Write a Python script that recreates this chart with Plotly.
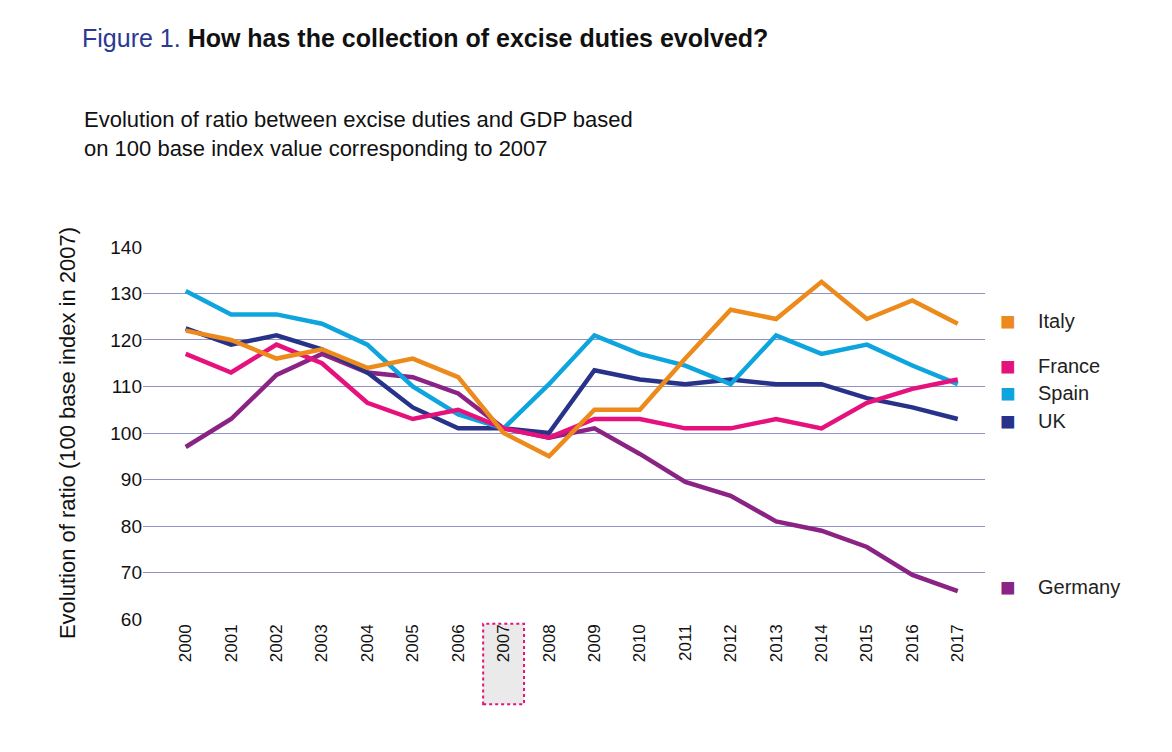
import plotly.graph_objects as go

years = list(range(2000, 2018))
italy = [122,120,116,118,114,116,112,100,95,105,105,116,126.5,124.5,132.5,124.5,128.5,123.5]
france = [117,113,119,115,106.5,103,105,101,99,103,103,101,101,103,101,106.5,109.5,111.5]
spain = [130.5,125.5,125.5,123.5,119,110,104,101,110.5,121,117,114.5,110.5,121,117,119,114.5,110.5]
uk = [122.5,119,121,118,113,105.5,101,101,100,113.5,111.5,110.5,111.5,110.5,110.5,107.5,105.5,103]
germany = [97,103,112.5,117,113,112,108.5,101,99,101,95.5,89.5,86.5,81,79,75.5,69.5,66]
series = [("Italy", italy, "#ec8a1c", 124), ("France", france, "#e5127d", 114.5),
          ("Spain", spain, "#0ea5df", 108.5), ("UK", uk, "#283288", 102.5),
          ("Germany", germany, "#8a2384", 67)]

fig = go.Figure()
for name, vals, col, _ in series[::-1]:
    fig.add_trace(go.Scatter(x=years, y=vals, mode="lines", name=name,
                             line=dict(color=col, width=4.5), showlegend=False))

fig.add_shape(type="rect", xref="x", yref="paper", x0=2006.55, x1=2007.45, y0=-0.225, y1=-0.01,
              fillcolor="#eaeaea", line=dict(color="#e5127d", width=2, dash="dot"), layer="below")

for name, vals, col, ly in series:
    fig.add_annotation(xref="paper", yref="y", x=1.015, y=ly, text="■", showarrow=False,
                       xanchor="left", font=dict(size=26, color=col))
    fig.add_annotation(xref="paper", yref="y", x=1.06, y=ly, text=name, showarrow=False,
                       xanchor="left", font=dict(size=20, color="#222"))

fig.add_annotation(xref="paper", yref="paper", x=-0.075, y=1.555, xanchor="left", yanchor="middle",
                   text="<span style='color:#2b3990'>Figure 1.</span> <b>How has the collection of excise duties evolved?</b>",
                   showarrow=False, font=dict(size=25, color="#111"))
fig.add_annotation(xref="paper", yref="paper", x=-0.072, y=1.30, xanchor="left", yanchor="middle", align="left",
                   text="Evolution of ratio between excise duties and GDP based<br>on 100 base index value corresponding to 2007",
                   showarrow=False, font=dict(size=22, color="#111"))

fig.update_layout(width=1172, height=752, margin=dict(l=135, r=195, t=238, b=140),
                  plot_bgcolor="white", paper_bgcolor="white",
                  font=dict(family="Liberation Sans, Arial", color="#111"))
fig.update_xaxes(range=[1999.06, 2017.6], tickvals=years, ticktext=[str(y) for y in years],
                 tickangle=-90, tickfont=dict(size=17), showgrid=False, zeroline=False, showline=False)
fig.update_yaxes(range=[59.8, 140.2], tickvals=list(range(60, 141, 10)), tickfont=dict(size=19),
                 gridcolor="#8f93c4", gridwidth=1, zeroline=False,
                 title=dict(text="Evolution of ratio (100 base index in 2007)", font=dict(size=22), standoff=28))
fig.write_html("out.html")
